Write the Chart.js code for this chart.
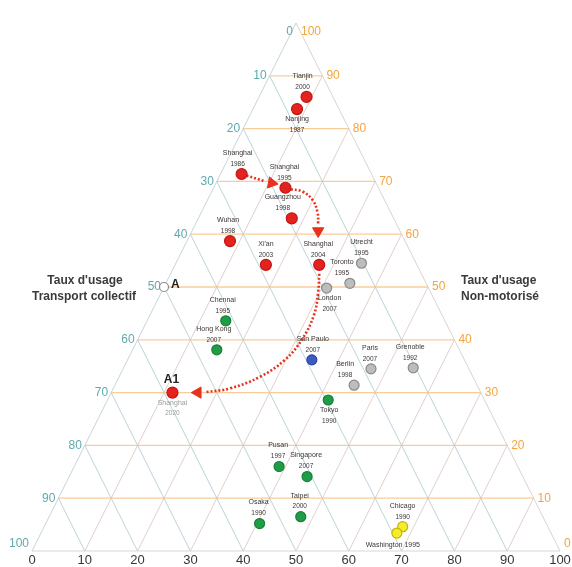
<!DOCTYPE html>
<html>
<head>
<meta charset="utf-8">
<script src="https://cdn.jsdelivr.net/npm/chart.js@4/dist/chart.umd.min.js"></script>
<style>
  html, body { margin: 0; padding: 0; background: #fff; }
  canvas { display: block; }
</style>
</head>
<body>
<canvas id="c" width="572" height="567"></canvas>
<script>
// Villes, années d'enquête et position dans le diagramme
const cities = ['Tianjin', 'Nanjing', 'Shanghai', 'Shanghai', 'Guangzhou', 'Wuhan', "Xi'an", 'Shanghai',
  'Utrecht', 'Toronto', 'London', 'San Paulo', 'Paris', 'Grenoble', 'Berlin',
  'Chennai', 'Hong Kong', 'Shanghai', 'Tokyo', 'Pusan', 'Singapore', 'Osaka', 'Taipei',
  'Chicago', 'Washington'];
const years = ['2000', '1987', '1986', '1995', '1998', '1998', '2003', '2004',
  '1995', '1995', '2007', '2007', '2007', '1992', '1998',
  '1995', '2007', '2020', '1990', '1997', '2007', '1990', '2000',
  '1990', '1995'];
// position sur l'échelle du bas (0–100)
const baseScale = [52.0, 50.2, 39.7, 48.0, 49.2, 37.5, 44.3, 54.4,
  62.4, 60.2, 55.8, 53.0, 64.2, 72.2, 61.0,
  36.7, 35.0, 26.6, 56.1, 46.8, 52.1, 43.1, 50.9,
  70.2, 69.1];
// taux d'usage transport collectif (échelle de gauche, 0 au sommet)
const collectif = [14.0, 16.3, 28.6, 31.2, 37.0, 41.3, 45.8, 45.8,
  45.5, 49.3, 50.2, 63.8, 65.5, 65.3, 68.6,
  56.4, 61.9, 70.0, 71.4, 84.0, 85.9, 94.8, 93.5,
  95.4, 96.6];
const groups = ['chine', 'chine', 'chine', 'chine', 'chine', 'chine', 'chine', 'chine',
  'europe', 'europe', 'europe', 'amsud', 'europe', 'europe', 'europe',
  'asie', 'asie', 'chine', 'asie', 'asie', 'asie', 'asie', 'asie',
  'usa', 'usa'];

// point de référence A (sur le bord gauche, niveau 50)
const pointA = { x: 25, y: 50 };

// trajectoire de Shanghai (flèches)
const arrowPaths = [
  [[40.6, 28.9], [44.2, 30.0]],
  [[49.0, 31.5], [51.2, 31.9], [53.2, 33.6], [54.1, 36.0], [54.2, 38.0]],
  [[54.4, 47.5], [54.2, 51.0], [53.4, 55.3], [51.1, 60.0], [47.9, 63.8], [43.2, 67.0], [37.5, 69.2], [33.0, 69.9]]
];
const arrowHeads = [[45.4, 30.3], [54.2, 39.4], [31.4, 70.0]];
const arrowAngles = [100, 180, 270];

// graduations
const levels = [0, 10, 20, 30, 40, 50, 60, 70, 80, 90, 100];
const leftTicks = ['0', '10', '20', '30', '40', '50', '60', '70', '80', '90', '100'];
const rightTicks = ['100', '90', '80', '70', '60', '50', '40', '30', '20', '10', '0'];
const bottomTicks = ['0', '10', '20', '30', '40', '50', '60', '70', '80', '90', '100'];

const groupStyle = {
  chine:  { bg: '#e3231d', border: '#c41512', r: 5.5 },
  europe: { bg: '#bdbdbd', border: '#8a8a8a', r: 5 },
  amsud:  { bg: '#3b5cc4', border: '#2a45a0', r: 5 },
  asie:   { bg: '#1f9c45', border: '#15803a', r: 5 },
  usa:    { bg: '#f5ec2c', border: '#c6b400', r: 5 }
};

// placement des étiquettes de ville
const labelPlacement = [
  ['above', -4], ['below', 0], ['above', -4], ['above', -1], ['above', -9], ['above', -2], ['above', 0], ['above', -1],
  ['above', 0], ['above', -8], ['below', 3], ['above', 1], ['above', -1], ['above', -3], ['above', -9],
  ['above', -3], ['above', -3], ['below', 0], ['below', 1], ['above', -1], ['above', -1], ['above', -1], ['above', -1],
  ['above', 0], ['inline', -4]
];

const NARROW = "'Liberation Sans Narrow', 'Liberation Sans', Arial, sans-serif";
const SANS = "'Liberation Sans', Arial, sans-serif";

const datasets = [];
Object.keys(groupStyle).forEach(g => {
  const pts = [];
  cities.forEach((c, i) => { if (groups[i] === g) pts.push({ x: baseScale[i], y: collectif[i] }); });
  const s = groupStyle[g];
  datasets.push({
    label: g, data: pts, showLine: false,
    pointRadius: s.r, pointBackgroundColor: s.bg, pointBorderColor: s.border, pointBorderWidth: 1.2,
    clip: false
  });
});
datasets.push({
  label: 'A', data: [pointA], showLine: false,
  pointRadius: 4.5, pointBackgroundColor: '#ffffff', pointBorderColor: '#8a8a8a', pointBorderWidth: 1.2, clip: false
});
datasets.push({
  label: 'têtes', data: arrowHeads.map(p => ({ x: p[0], y: p[1] })), showLine: false,
  pointStyle: 'triangle', pointRotation: arrowAngles, pointRadius: 6.5,
  pointBackgroundColor: '#e8321c', pointBorderColor: '#e8321c', pointBorderWidth: 1, clip: false
});
arrowPaths.forEach(path => {
  datasets.push({
    type: 'line', label: 'trajet', data: path.map(p => ({ x: p[0], y: p[1] })),
    showLine: true, tension: 0.4, pointRadius: 0,
    borderColor: '#e8321c', borderWidth: 2.6, borderDash: [2, 2], fill: false, clip: false
  });
});

// grille triangulaire, graduations et titres
const trianglePlugin = {
  id: 'triangle',
  beforeDraw(chart) {
    const c = chart.ctx;
    c.save();
    c.fillStyle = '#ffffff';
    c.fillRect(0, 0, chart.width, chart.height);
    c.restore();
  },
  beforeDatasetsDraw(chart) {
    const c = chart.ctx, xs = chart.scales.x, ys = chart.scales.y;
    const P = (x, y) => [xs.getPixelForValue(x), ys.getPixelForValue(y)];
    const seg = (a, b, col, w) => {
      c.beginPath(); c.strokeStyle = col; c.lineWidth = w;
      c.moveTo(a[0], a[1]); c.lineTo(b[0], b[1]); c.stroke();
    };
    c.save();
    levels.slice(1, -1).forEach(k => {
      seg(P(k, 100), P(k / 2, 100 - k), 'rgba(120,168,180,0.5)', 1);
      seg(P(k, 100), P(50 + k / 2, k), 'rgba(214,188,182,0.7)', 1);
    });
    seg(P(0, 100), P(50, 0), 'rgba(170,195,205,0.7)', 1);
    seg(P(50, 0), P(100, 100), 'rgba(205,190,185,0.7)', 1);
    seg(P(0, 100), P(100, 100), 'rgba(205,205,205,0.8)', 1);
    levels.slice(1, -1).forEach(t => {
      seg(P(50 - t / 2, t), P(50 + t / 2, t), 'rgba(247,196,135,0.85)', 1.3);
    });

    c.font = '12px ' + NARROW;
    c.textBaseline = 'middle';
    levels.forEach((t, i) => {
      const l = P(50 - t / 2, t), r = P(50 + t / 2, t);
      let dy = 0;
      if (t === 0) dy = 9;
      if (t === 100) dy = -7;
      c.fillStyle = '#62a9ac';
      c.textAlign = 'right';
      c.fillText(leftTicks[i], l[0] - 3, l[1] + dy);
      c.fillStyle = '#f2a540';
      c.textAlign = 'left';
      c.fillText(rightTicks[i], r[0] + (t === 0 ? 5 : 4), r[1] + dy);
    });
    c.fillStyle = '#3a3434';
    c.textAlign = 'center';
    c.font = '13px ' + NARROW;
    levels.forEach((v, i) => {
      const b = P(v, 100);
      c.fillText(bottomTicks[i], b[0], b[1] + 9);
    });

    c.font = 'bold 12px ' + SANS;
    c.fillStyle = '#3a3a3a';
    c.textAlign = 'center';
    c.fillText("Taux d'usage", 85, 281);
    c.fillText('Transport collectif', 84, 297);
    c.textAlign = 'left';
    c.fillText("Taux d'usage", 461, 281);
    c.fillText('Non-motorisé', 461, 297);
    c.restore();
  },
  afterDatasetsDraw(chart) {
    const c = chart.ctx, xs = chart.scales.x, ys = chart.scales.y;
    c.save();
    c.textAlign = 'center';
    c.textBaseline = 'middle';
    cities.forEach((name, i) => {
      const px = xs.getPixelForValue(baseScale[i]);
      const py = ys.getPixelForValue(collectif[i]);
      const [dir, dx] = labelPlacement[i];
      c.fillStyle = (i === 17) ? '#9a9a9a' : '#3d3535';
      if (dir === 'inline') {
        c.font = '7px ' + SANS;
        c.fillText(name + ' ' + years[i], px + dx, py + 12);
        return;
      }
      const y1 = dir === 'above' ? py - 21 : py + 10;
      const y2 = dir === 'above' ? py - 10 : py + 21;
      c.font = '7px ' + SANS;
      c.fillText(name, px + dx, y1);
      c.font = '6.5px ' + SANS;
      c.fillText(years[i], px + dx, y2);
    });
    // repères A et A1
    c.font = 'bold 12px ' + SANS;
    c.fillStyle = '#222';
    const ax = xs.getPixelForValue(pointA.x), ay = ys.getPixelForValue(pointA.y);
    c.textAlign = 'left';
    c.fillText('A', ax + 7, ay - 2);
    const a1x = xs.getPixelForValue(baseScale[17]), a1y = ys.getPixelForValue(collectif[17]);
    c.textAlign = 'center';
    c.fillText('A1', a1x - 1, a1y - 13);
    c.restore();
  }
};

new Chart(document.getElementById('c'), {
  type: 'scatter',
  data: { datasets },
  options: {
    responsive: false,
    animation: false,
    devicePixelRatio: 1,
    layout: { padding: { left: 32, right: 12, top: 23, bottom: 16 } },
    scales: {
      x: { type: 'linear', min: 0, max: 100, display: false },
      y: { type: 'linear', min: 0, max: 100, reverse: true, display: false }
    },
    plugins: { legend: { display: false }, tooltip: { enabled: false } }
  },
  plugins: [trianglePlugin]
});
</script>
</body>
</html>
